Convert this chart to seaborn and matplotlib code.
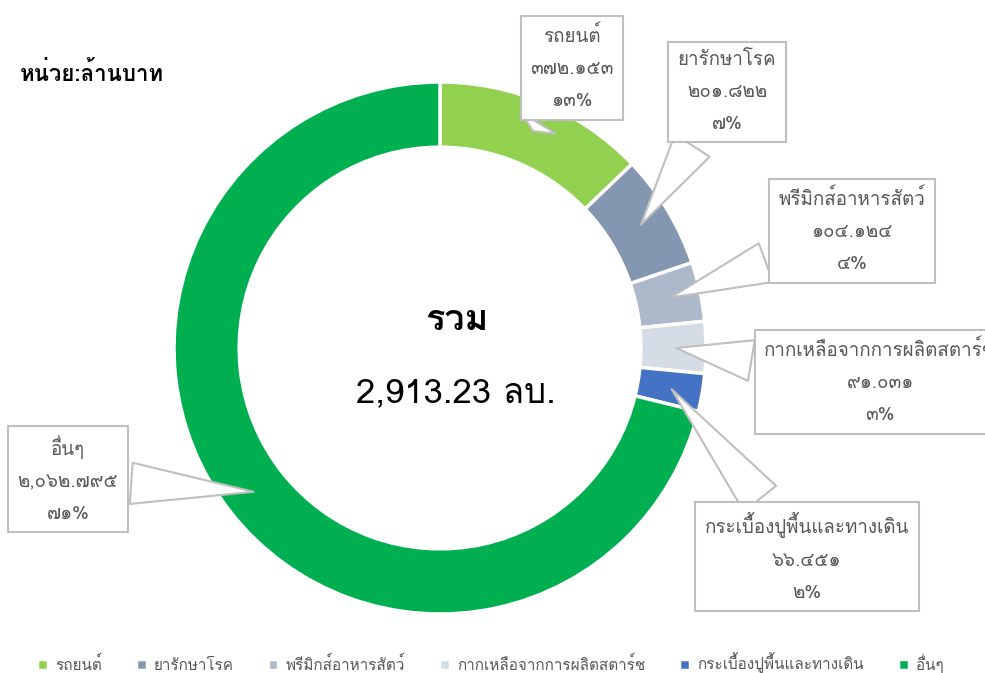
import matplotlib
matplotlib.use("Agg")
import matplotlib.pyplot as plt
import seaborn as sns
from matplotlib import font_manager
from matplotlib.ft2font import FT2Font
import numpy as np

# data
categories = ["รถยนต์", "ยารักษาโรค", "พรีมิกส์อาหารสัตว์",
              "กากเหลือจากการผลิตสตาร์ช", "กระเบื้องปูพื้นและทางเดิน", "อื่นๆ"]
values = [372.153, 201.822, 104.124, 91.031, 66.451, 2062.795]
value_labels = ["๓๗๒.๑๕๓", "๒๐๑.๘๒๒", "๑๐๔.๑๒๔", "๙๑.๐๓๑", "๖๖.๔๕๑", "๒,๐๖๒.๗๙๕"]
pct_labels = ["๑๓%", "๗%", "๔%", "๓%", "๒%", "๗๑%"]
colors = ["#92D050", "#8497B0", "#ADB9CA", "#D6DCE5", "#4472C4", "#00B050"]
total_label = "2,913.23 ลบ."

# callout box centres in figure pixels (layout only)
box_pos = [(572, 68), (727, 92), (852, 231), (880, 382), (807, 557), (68, 479)]


def find_thai_family():
    paths = set(f.fname for f in font_manager.fontManager.ttflist)
    paths |= set(font_manager.findSystemFonts())
    found = []
    for p in sorted(paths):
        try:
            cmap = FT2Font(p).get_charmap()
        except Exception:
            continue
        if 0x0E23 in cmap and 0x0E51 in cmap:
            try:
                font_manager.fontManager.addfont(p)
                found.append(font_manager.FontProperties(fname=p).get_name())
            except Exception:
                pass
    return found


sns.set_theme(style="white")
thai = find_thai_family()
plt.rcParams["font.family"] = (thai[:1] if thai else []) + ["DejaVu Sans"]

W, H = 985, 673
fig = plt.figure(figsize=(W / 100, H / 100), dpi=100)
cx, cy, r = 440, 348, 266
ax = fig.add_axes([(cx - r) / W, (H - cy - r) / H, 2 * r / W, 2 * r / H])

wedges, _ = ax.pie(values, colors=colors, startangle=90, counterclock=False,
                   radius=1, wedgeprops=dict(width=0.245, edgecolor="white", linewidth=2.5))
ax.set_xlim(-1, 1)
ax.set_ylim(-1, 1)
ax.set_aspect("equal")
ax.axis("off")

ax.text(0.065, 0.10, "รวม", ha="center", va="center", fontsize=26, fontweight="bold", color="black")
ax.text(0.06, -0.17, total_label, ha="center", va="center", fontsize=25, color="black")

for w, lab, val, pct, (bx, by) in zip(wedges, categories, value_labels, pct_labels, box_pos):
    ang = np.deg2rad((w.theta1 + w.theta2) / 2)
    tip = (0.877 * np.cos(ang), 0.877 * np.sin(ang))
    ax.annotate(f"{lab}\n{val}\n{pct}", xy=tip, xycoords="data",
                xytext=(bx / W, 1 - by / H), textcoords="figure fraction",
                ha="center", va="center", fontsize=13.5, color="#595959", linespacing=2.0,
                bbox=dict(boxstyle="square,pad=0.5", fc="white", ec="#BFBFBF", lw=1.5),
                arrowprops=dict(arrowstyle="wedge,tail_width=2.2", fc="white",
                                ec="#BFBFBF", lw=1.5),
                annotation_clip=False)

fig.text(20 / W, 1 - 73 / H, "หน่วย:ล้านบาท", ha="left", va="center",
         fontsize=16, fontweight="bold", color="black")

fig.legend(wedges, categories, loc="center", bbox_to_anchor=(0.498, 1 - 663 / H),
           ncol=6, frameon=False, fontsize=11, labelcolor="#595959",
           handlelength=0.7, handleheight=0.7, handletextpad=0.5, columnspacing=2.2)

fig.savefig("out.png", dpi=100)
